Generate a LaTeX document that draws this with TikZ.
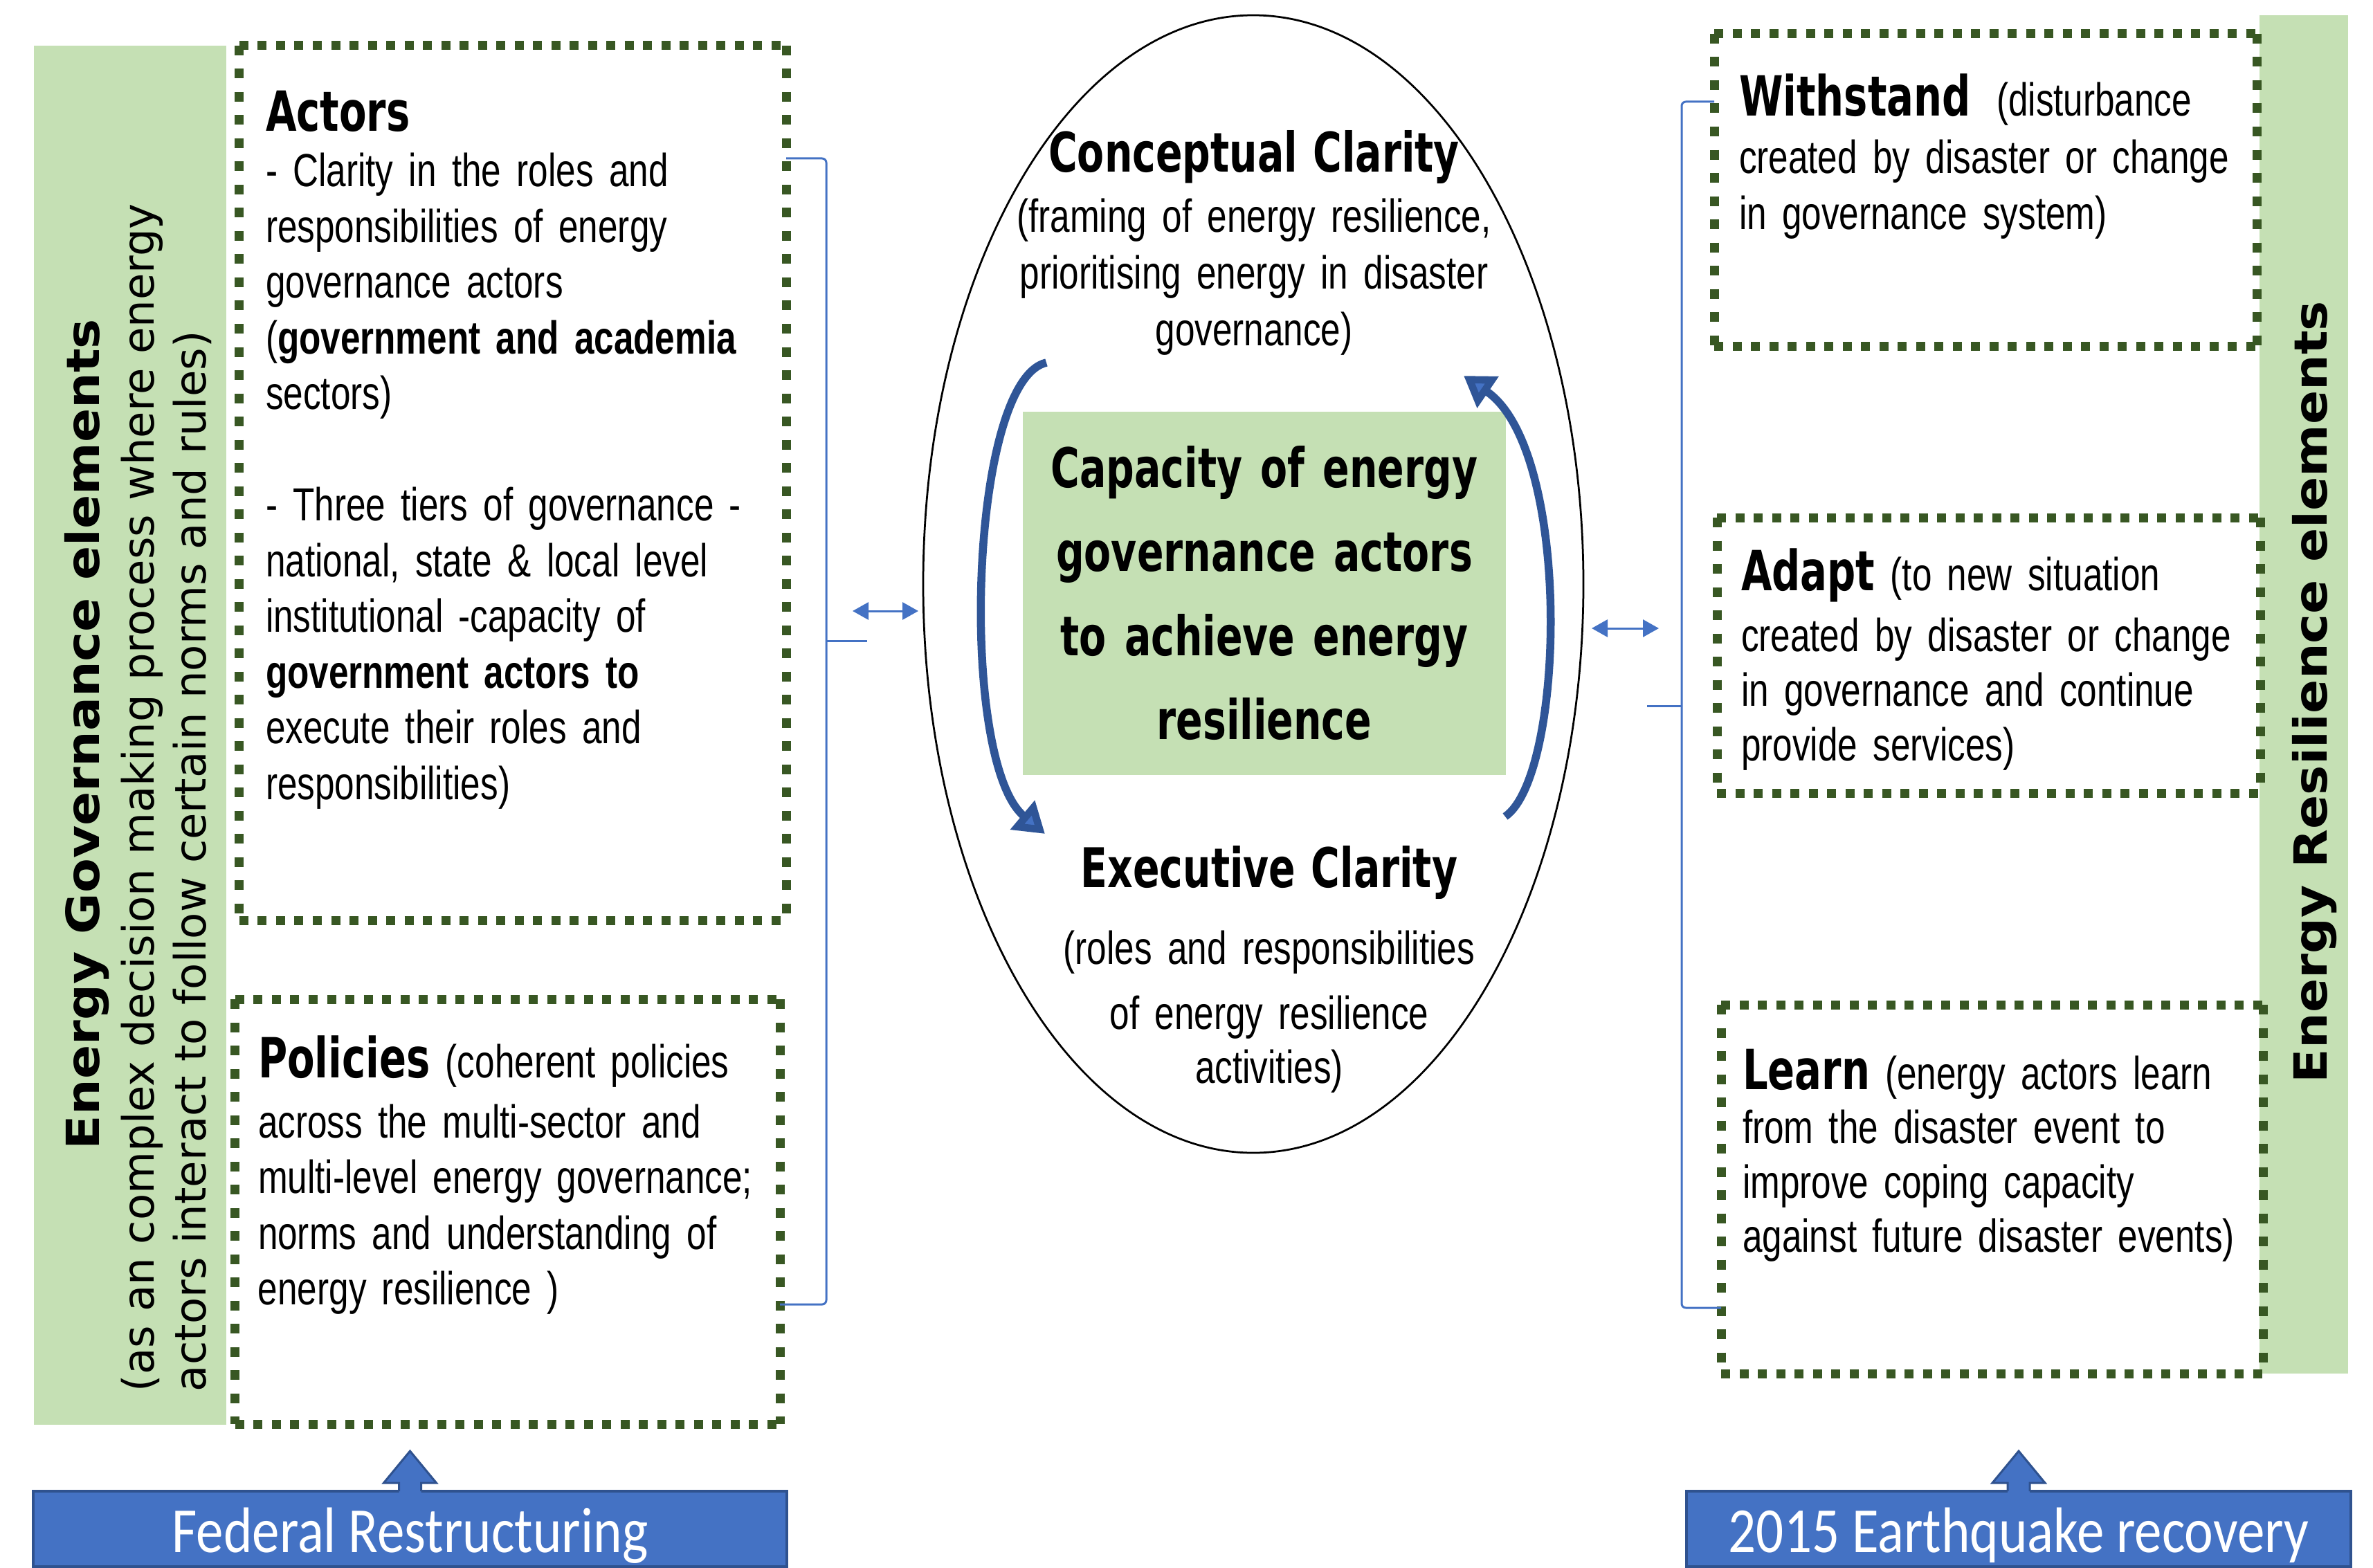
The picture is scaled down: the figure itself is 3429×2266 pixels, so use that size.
\documentclass[tikz,border=0pt]{standalone}
\usepackage{fontspec}
\setmainfont{Liberation Sans}
\newfontfamily\bodyfont{Liberation Sans}[FakeStretch=0.765]
\newfontfamily\headfont{DejaVu Sans}[FakeStretch=0.72]
\newfontfamily\bandfont{DejaVu Sans}[FakeStretch=1.1]
\newfontfamily\notefont{DejaVu Sans}
\newfontfamily\barfont{Carlito}[FakeStretch=0.85]
\usetikzlibrary{shapes.geometric,arrows.meta,calc}

\definecolor{leafgreen}{RGB}{197,224,180}
\definecolor{dotgreen}{RGB}{56,87,35}
\definecolor{accentblue}{RGB}{68,114,196}
\definecolor{deepblue}{RGB}{47,82,143}
\definecolor{cyclenavy}{RGB}{47,85,151}

% bold heading inside a text block
\newcommand{\boxtitle}[1]{{\headfont\bfseries\fontsize{16pt}{16pt}\selectfont #1}}
% square-dot frame around a named panel
\newcommand{\dotframe}[1]{%
  \draw[hdots] (#1.north west) -- (#1.north east) (#1.south west) -- (#1.south east);
  \draw[vdots] (#1.north west) -- (#1.south west) (#1.north east) -- (#1.south east);}

\tikzset{
  panel/.style={rectangle, inner sep=0pt, outer sep=0pt},
  band/.style={panel, fill=leafgreen},
  hdots/.style={dotgreen, line width=2.6pt, dash pattern=on 2.6pt off 2.7pt},
  vdots/.style={dotgreen, line width=2.6pt, dash pattern=on 2.8pt off 3.9pt},
  boxtext/.style={anchor=base west, inner sep=0pt, text width=152pt, align=left,
    font={\bodyfont\fontsize{13.4pt}{16.1pt}\selectfont\lineskiplimit=-50pt}},
  ringtext/.style={anchor=base, inner sep=0pt, text width=170pt, align=center,
    font={\bodyfont\fontsize{13.4pt}{16.4pt}\selectfont\lineskiplimit=-50pt}},
  upright/.style={rotate=90, inner sep=0pt},
  bandtitle/.style={upright, anchor=base, font={\bandfont\bfseries\fontsize{13.2pt}{14pt}\selectfont}},
  bandnote/.style={upright, anchor=base west, font={\notefont\fontsize{12.5pt}{14pt}\selectfont}},
  eventbar/.style={panel, fill=accentblue, draw=deepblue, line width=0.8pt,
    minimum height=21.8pt, text=white, text height=15pt, text depth=1.6pt,
    font={\barfont\fontsize{18.6pt}{20pt}\selectfont}},
  bracket/.style={accentblue, line width=0.6pt, rounded corners=1.2pt},
  linkarrow/.style={accentblue, line width=0.6pt,
    {Triangle[length=4.6pt,width=5pt]}-{Triangle[length=4.6pt,width=5pt]}},
  cyclearrow/.style={cyclenavy, line width=2.3pt,
    -{Triangle[length=8.5pt,width=10.5pt,fill=accentblue]}},
}

\begin{document}
\begin{tikzpicture}[x=0.2pt, y=-0.2pt]
\fill[white] (0,0) rectangle (3429,2266);
\useasboundingbox (0,0) rectangle (3429,2266);

% ---------- left column: governance elements ----------
\node[band, minimum width=55.6pt, minimum height=398.6pt] (govband) at (188,1062.5) {};
\node[bandtitle] (govtitle) at (144,1061) {Energy Governance elements};
\node[bandnote] (govnote1) at (222,2012) {(as an complex decision making process where energy};
\node[bandnote] (govnote2) at (297,2012) {actors interact to follow certain norms and rules)};

\node[panel, minimum width=158pt, minimum height=252.8pt] (actors) at (741,698) {};
\node[panel, minimum width=157.4pt, minimum height=122.8pt] (policies) at (733.5,1751) {};
\dotframe{actors}
\dotframe{policies}

\node[boxtext] (actorstext) at (383,189) {\boxtitle{Actors}\\
- Clarity in the roles and\\
responsibilities of energy\\
governance actors\\
(\textbf{government and academia}\\
sectors)\\[16.1pt]
- Three tiers of governance -\\
national, state \& local level\\
institutional -capacity of\\
\textbf{government actors to}\\
execute their roles and\\
responsibilities)};

\node[boxtext] (policiestext) at (372,1557) {\boxtitle{Policies} (coherent policies\\[1.3pt]
across the multi-sector and\\
multi-level energy governance;\\
norms and understanding of\\
energy resilience )};

% ---------- centre: the cycle of clarity ----------
\node[ellipse, draw=black, line width=0.55pt, inner sep=0pt,
      minimum width=190.8pt, minimum height=328.8pt] (ring) at (1811,844) {};
\node[panel, fill=leafgreen, minimum width=139.6pt, minimum height=105pt] (core) at (1827,857.5) {};
\node[anchor=base, inner sep=0pt, text width=139pt, align=center,
      font={\headfont\bfseries\fontsize{15.8pt}{24.3pt}\selectfont\lineskiplimit=-50pt}]
      (coretext) at (1827,704) {Capacity of energy\\ governance actors\\ to achieve energy\\ resilience};

\node[ringtext] (concept) at (1812,248) {{\headfont\bfseries\fontsize{15.8pt}{16pt}\selectfont Conceptual Clarity}\\[1pt]
(framing of energy resilience,\\
prioritising energy in disaster\\
governance)};
\node[ringtext, font={\bodyfont\fontsize{13.4pt}{15.6pt}\selectfont\lineskiplimit=-50pt}]
      (execut) at (1834,1282) {{\headfont\bfseries\fontsize{15.8pt}{16pt}\selectfont Executive Clarity}\\[6.6pt]
(roles and responsibilities\\[3.2pt]
of energy resilience\\
activities)};

\coordinate (lefttail) at (1512,524);
\coordinate (lefthead) at (1510,1205);
\coordinate (righttail) at (2175,1180);
\coordinate (righthead) at (2115,543);
\draw[cyclearrow] (lefttail) .. controls (1400,550) and (1385,1100) .. (lefthead);
\draw[cyclearrow] (righttail) .. controls (2262,1120) and (2272,650) .. (righthead);

% ---------- right column: resilience elements ----------
\node[band, minimum width=25.6pt, minimum height=392.6pt] (resband) at (3329,1003.5) {};
\node[bandtitle] (restitle) at (3362,1000) {Energy Resilience elements};

\node[panel, minimum width=156.8pt, minimum height=90.2pt] (withstand) at (2869,274.5) {};
\node[panel, minimum width=157pt, minimum height=79.6pt] (adapt) at (2873.5,947) {};
\node[panel, minimum width=156.6pt, minimum height=106.6pt] (learn) at (2878.5,1718.5) {};
\dotframe{withstand}
\dotframe{adapt}
\dotframe{learn}

\node[boxtext] (withstandtext) at (2512,168) {\boxtitle{Withstand}\hspace{3pt} (disturbance\\[0.4pt]
created by disaster or change\\
in governance system)};
\node[boxtext, font={\bodyfont\fontsize{13.4pt}{15.8pt}\selectfont\lineskiplimit=-50pt}]
      (adapttext) at (2515,853) {\boxtitle{Adapt} (to new situation\\[1.8pt]
created by disaster or change\\
in governance and continue\\
provide services)};
\node[boxtext, font={\bodyfont\fontsize{13.4pt}{15.7pt}\selectfont\lineskiplimit=-50pt}]
      (learntext) at (2517,1574) {\boxtitle{Learn} (energy actors learn\\
from the disaster event to\\
improve coping capacity\\
against future disaster events)};

% ---------- brackets and links ----------
\coordinate (lspine) at (1194,926);
\coordinate (ltop) at ($(actors.north east)+(0,163)$);
\coordinate (lbot) at ($(policies.south east)+(0,-173)$);
\draw[bracket] (ltop) -- (ltop -| lspine) -- (lbot -| lspine) -- (lbot);
\draw[bracket] (lspine) -- ++(59,0);

\coordinate (rspine) at (2430,1020);
\coordinate (rtop) at ($(withstand.north west)+(0,98)$);
\coordinate (rbot) at ($(learn.south west)+(0,-95)$);
\draw[bracket] (rtop) -- (rtop -| rspine) -- (rbot -| rspine) -- (rbot);
\draw[bracket] (rspine) -- ++(-50,0);

\coordinate (llinkA) at (1232,883);
\coordinate (llinkB) at (1327,883);
\coordinate (rlinkA) at (2300,908);
\coordinate (rlinkB) at (2397,908);
\draw[linkarrow] (llinkA) -- (llinkB);
\draw[linkarrow] (rlinkA) -- (rlinkB);

% ---------- drivers at the bottom ----------
\node[eventbar, minimum width=217.8pt] (fedbar) at (592.5,2209.5) {Federal Restructuring};
\node[eventbar, minimum width=192pt] (quakebar) at (2917,2209.5) {2015 Earthquake recovery};

\foreach \bar in {fedbar,quakebar}{
  \coordinate (\bar tip) at ($(\bar.north)+(0,-58)$);
  \fill[accentblue] (\bar tip) -- ++(38,46) -- ++(-22,0) -- ++(0,14) -- ++(-32,0)
        -- ++(0,-14) -- ++(-22,0) -- cycle;
  \draw[deepblue, line width=0.6pt, line join=miter]
        ($(\bar tip)+(16,58)$) -- ++(0,-12) -- ++(22,0) -- (\bar tip)
        -- ++(-38,46) -- ++(22,0) -- ++(0,12);
}
\end{tikzpicture}
\end{document}
